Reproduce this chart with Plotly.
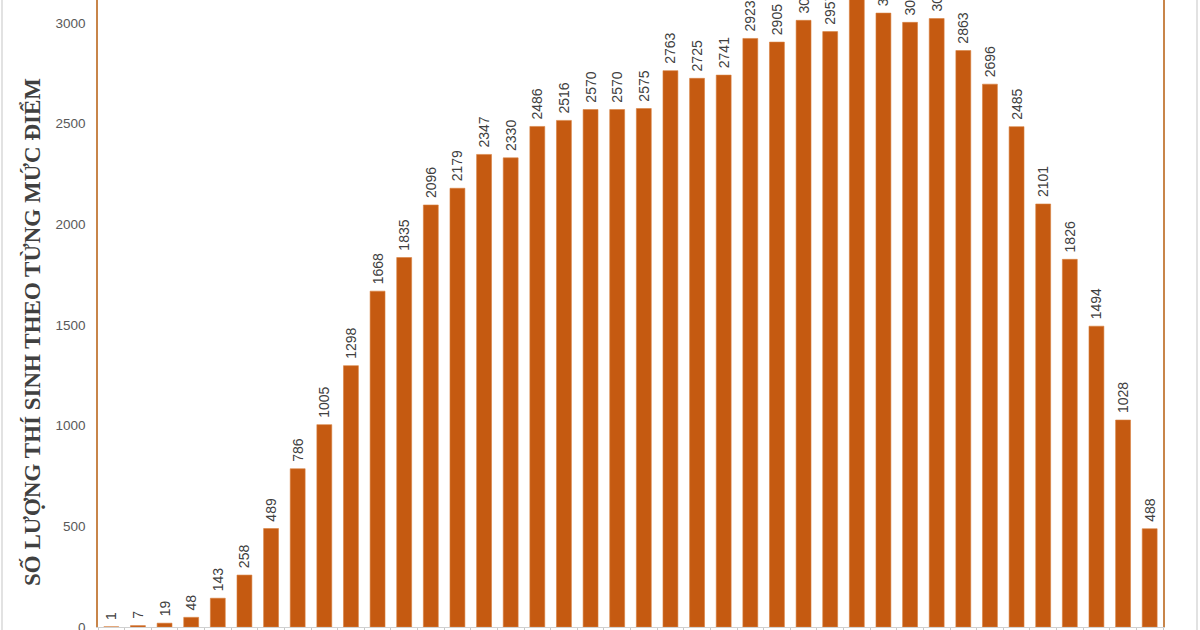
import plotly.graph_objects as go

scores = [f"{0.25 * (i + 1):g}" for i in range(40)]
counts = [1, 7, 19, 48, 143, 258, 489, 786, 1005, 1298,
          1668, 1835, 2096, 2179, 2347, 2330, 2486, 2516, 2570, 2570,
          2575, 2763, 2725, 2741, 2923, 2905, 3013, 2957, 3190, 3049,
          3003, 3022, 2863, 2696, 2485, 2101, 1826, 1494, 1028, 488]
y_ticks = [0, 500, 1000, 1500, 2000, 2500, 3000]
y_title = "SỐ LƯỢNG THÍ SINH THEO TỪNG MỨC ĐIỂM"

W, H = 1200, 630
L, R, T, B = 98, 37, 0, 3
pw = W - L - R

BAR = "#C55A11"
AXIS = "#C8854A"

fig = go.Figure(go.Bar(
    x=scores, y=counts,
    marker=dict(color=BAR, line=dict(color="#D9823F", width=0.6)),
    text=["\u00a0" + str(v) for v in counts],
    textposition="outside",
    textangle=-90,
    constraintext="none",
    cliponaxis=True,
    textfont=dict(family="Liberation Sans, Arial", size=14, color="#404040"),
))

fig.update_layout(
    width=W, height=H,
    margin=dict(l=L, r=R, t=T, b=B, autoexpand=False),
    paper_bgcolor="white", plot_bgcolor="white",
    bargap=0.44,
    showlegend=False,
    xaxis=dict(
        type="category", showticklabels=False, automargin=False,
        ticks="outside", tickson="boundaries", ticklen=6, tickcolor="#C8C8C8",
        showline=True, linecolor="#D0D0D0", linewidth=1, showgrid=False,
    ),
    yaxis=dict(
        range=[0, 3114], tickvals=y_ticks, automargin=False,
        showgrid=False, zeroline=False,
        showline=True, mirror=True, linecolor=AXIS, linewidth=1.5,
        tickfont=dict(family="Liberation Sans, Arial", size=13.5, color="#595959"),
        ticks="", ticklabelstandoff=8, ticklabeloverflow="allow",
    ),
    annotations=[dict(
        text="<b>" + y_title + "</b>", textangle=-90, showarrow=False,
        xref="paper", yref="paper",
        x=(32 - L) / pw, y=1 - (332 - T) / (H - T - B),
        xanchor="center", yanchor="middle",
        font=dict(family="Liberation Serif, Times New Roman", size=23, color="#404040"),
    )],
    shapes=[
        dict(type="line", xref="paper", yref="paper",
             x0=(2 - L) / pw, x1=(2 - L) / pw, y0=-0.1, y1=1.1,
             line=dict(color="#D9D9D9", width=1.5)),
        dict(type="line", xref="paper", yref="paper",
             x0=(1197 - L) / pw, x1=(1197 - L) / pw, y0=-0.1, y1=1.1,
             line=dict(color="#D9D9D9", width=1.5)),
    ],
)

fig.write_html(
    "out.html",
    config={"displayModeBar": False},
    post_script="document.body.style.margin='0';document.body.style.overflow='hidden';",
)
